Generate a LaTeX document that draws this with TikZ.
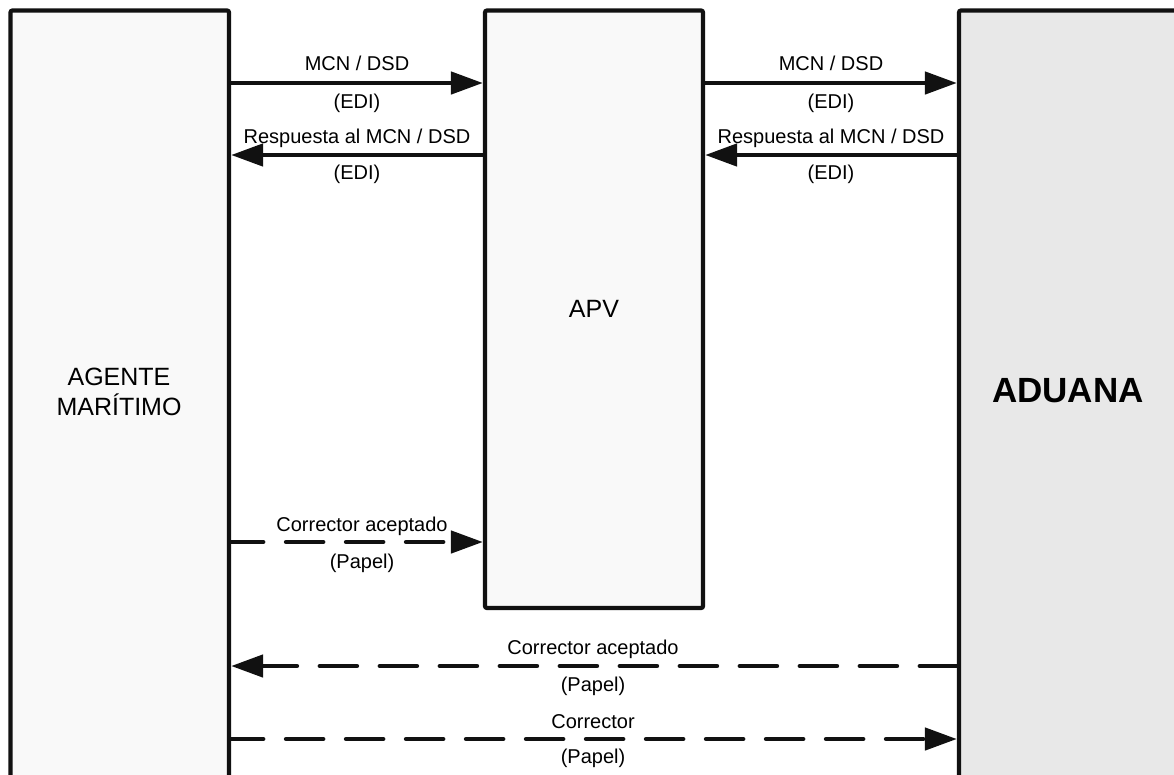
\documentclass[tikz,border=0pt]{standalone}
\usepackage{fontspec}
\setmainfont{Liberation Sans}
\usetikzlibrary{arrows.meta}
\definecolor{boxlight}{HTML}{F9F9F9}
\definecolor{boxgray}{HTML}{E8E8E8}
\definecolor{ink}{HTML}{111111}

\begin{document}
\begin{tikzpicture}[x=1pt,y=-1pt,
  lane/.style={draw=ink, line width=4.2pt, rounded corners=2pt, inner sep=0pt},
  flow/.style={draw=ink, line width=4.6pt, -{Triangle[length=32pt,width=22pt]}},
  paper/.style={flow, dash pattern=on 37pt off 23pt, line cap=round},
  lbl/.style={anchor=base, inner sep=0pt, font=\fontsize{20}{24}\selectfont},
]
\clip (0,0) rectangle (1174,774);

% the three lanes
\node[lane, fill=boxlight, minimum width=218.5pt, minimum height=789.5pt] (agente) at (119.75,405.25) {};
\node[lane, fill=boxlight, minimum width=218pt, minimum height=597.5pt,
      font=\fontsize{25}{30}\selectfont] (apv) at (594,309.25) {APV};
\node[lane, fill=boxgray, minimum width=241pt, minimum height=789.5pt] (aduana) at (1079.5,405.25) {};

\node[align=center, anchor=base, inner sep=0pt, font=\fontsize{25}{30}\selectfont] (agentetxt) at (119,415) {AGENTE\\MARÍTIMO};
\node[inner sep=0pt, font=\fontsize{35}{42}\selectfont\bfseries] (aduanatxt) at (1068,391) {ADUANA};

% electronic messages (EDI)
\draw[flow] (agente.east |- 0,83) -- (apv.west |- 0,83);
\node[lbl] (l1a) at (357,70) {MCN / DSD};
\node[lbl] (l1b) at (357,108.5) {(EDI)};

\draw[flow] (apv.west |- 0,155) -- (agente.east |- 0,155);
\node[lbl] (l2a) at (357,143) {Respuesta al MCN / DSD};
\node[lbl] (l2b) at (357,179) {(EDI)};

\draw[flow] (apv.east |- 0,83) -- (aduana.west |- 0,83);
\node[lbl] (l3a) at (831,70) {MCN / DSD};
\node[lbl] (l3b) at (831,108.5) {(EDI)};

\draw[flow] (aduana.west |- 0,155) -- (apv.east |- 0,155);
\node[lbl] (l4a) at (831,143) {Respuesta al MCN / DSD};
\node[lbl] (l4b) at (831,179) {(EDI)};

% paper documents
\draw[paper, dash phase=5pt] (agente.east |- 0,542) -- (apv.west |- 0,542);
\node[lbl] (l5a) at (362,531) {Corrector aceptado};
\node[lbl] (l5b) at (362,568) {(Papel)};

\draw[paper] (aduana.west |- 0,666) -- (agente.east |- 0,666);
\node[lbl] (l6a) at (593,654) {Corrector aceptado};
\node[lbl] (l6b) at (593,691) {(Papel)};

\draw[paper, dash phase=5pt] (agente.east |- 0,739) -- (aduana.west |- 0,739);
\node[lbl] (l7a) at (593,728) {Corrector};
\node[lbl] (l7b) at (593,763) {(Papel)};
\end{tikzpicture}
\end{document}
